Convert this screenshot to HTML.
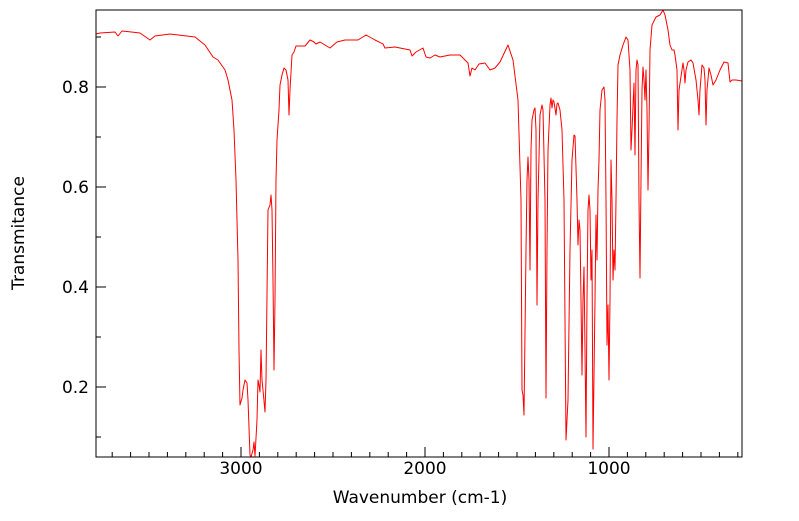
<!DOCTYPE html>
<html><head><meta charset="utf-8"><style>body{margin:0;background:#fff}</style></head>
<body>
<svg width="799" height="516" xmlns="http://www.w3.org/2000/svg" font-family="DejaVu Sans, Liberation Sans, sans-serif">
<rect width="799" height="516" fill="#fff"/>
<polyline fill="none" stroke="#ff0000" stroke-width="1" stroke-linejoin="round" points="96,34 100,33 115,32 118,36 122,31 140,33 150,40 155,36 170,34 195,37 205,45 213,57 218,60 225,70 228,80 232,100 234,130 236,180 238,260 239,350 240,405 242,398 243,390 245,380 247,383 248,400 250,455 251,457 253,450 254,442 255,456 257,420 258,380 259,385 260,392 261,350 262,380 263,390 265,412 266,380 268,210 270,205 271,195 272,210 273,280 274,370 275,300 276,180 277,140 279,110 280,85 282,75 284,68 286,70 288,80 289,115 290,90 292,55 294,52 296,46 298,46 305,46 310,40 314,42 316,44 320,42 330,48 337,42 345,40 358,40 366,35 375,40 383,44 385,48 395,47 400,48 410,50 412,56 416,52 423,48 426,57 430,58 435,55 440,57 450,55 460,55 468,63 470,76 472,68 475,70 479,64 485,63 490,70 495,68 500,62 508,45 513,60 518,100 521,200 522,390 523,395 524,415 526,250 527,180 528,157 529,180 530,270 531,150 532,120 534,110 535,108 536,130 537,305 538,200 540,115 542,105 543,110 545,200 546,398 547,250 548,150 550,105 551,98 552,108 553,100 554,102 556,115 557,104 558,103 560,110 562,130 564,200 566,440 568,400 570,250 572,160 574,135 575,136 577,200 578,245 579,220 580,230 581,300 582,375 583,300 584,267 585,350 586,437 587,300 588,210 589,195 590,210 591,280 592,250 593,449 595,300 596,215 597,260 598,190 599,160 600,110 602,90 604,87 605,100 606,200 607,345 608,305 609,380 610,300 611,160 612,200 613,280 614,250 615,270 616,200 617,120 618,65 620,55 623,45 626,37 628,40 630,70 631,150 632,130 634,83 635,155 636,70 637,60 638,65 639,200 640,278 641,180 642,90 643,67 644,80 645,100 646,70 647,110 648,190 649,130 650,50 652,25 656,17 660,15 663,10 665,15 668,30 670,45 672,50 674,50 675,55 677,70 678,130 679,90 683,63 684,70 685,83 686,70 688,62 691,60 693,63 696,80 698,100 699,115 700,90 702,65 704,68 705,80 706,125 707,90 709,68 711,75 713,85 716,80 720,70 724,62 728,63 730,82 732,80 736,80 742,81"/>
<rect x="96" y="10" width="646" height="447" fill="none" stroke="#000" stroke-width="1"/>
<path stroke="#000" stroke-width="1" fill="none" d="M112.2 457v-5M130.6 457v-5M149 457v-5M167.4 457v-5M185.8 457v-5M204.2 457v-5M222.6 457v-5M241 457v-10M259.4 457v-5M277.8 457v-5M296.2 457v-5M314.6 457v-5M333 457v-5M351.4 457v-5M369.8 457v-5M388.2 457v-5M406.6 457v-5M425 457v-10M443.4 457v-5M461.8 457v-5M480.2 457v-5M498.6 457v-5M517 457v-5M535.4 457v-5M553.8 457v-5M572.2 457v-5M590.6 457v-5M609 457v-10M627.4 457v-5M645.8 457v-5M664.2 457v-5M682.6 457v-5M701 457v-5M719.4 457v-5M737.8 457v-5M96 437h5M96 387h10M96 337h5M96 287h10M96 237h5M96 187h10M96 137h5M96 87h10M96 37h5"/>
<g font-size="17" fill="#000" text-anchor="middle">
<text x="241" y="474">3000</text><text x="425" y="474">2000</text><text x="609" y="474">1000</text>
<text x="420" y="503">Wavenumber (cm-1)</text>
</g>
<g font-size="17" fill="#000" text-anchor="end">
<text x="89" y="93">0.8</text><text x="89" y="193">0.6</text><text x="89" y="293">0.4</text><text x="89" y="393">0.2</text>
</g>
<text font-size="17" transform="translate(24,233) rotate(-90)" text-anchor="middle">Transmitance</text>
</svg>
</body></html>
